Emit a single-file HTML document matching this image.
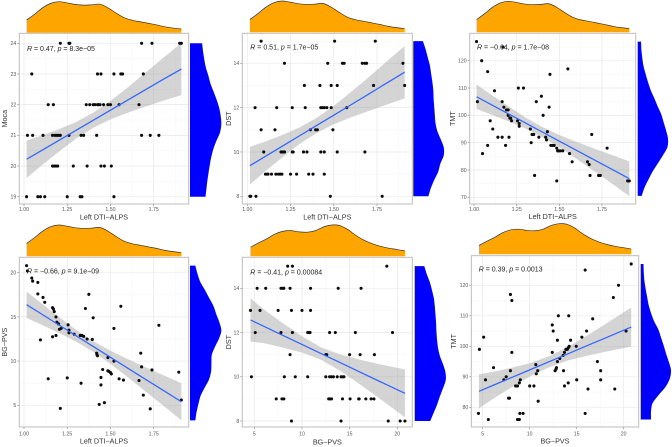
<!DOCTYPE html>
<html lang="en">
<head>
<meta charset="utf-8">
<title>Correlation scatter plots with marginal densities</title>
<style>
html,body{margin:0;padding:0;background:#fff;}
svg{display:block;font-family:"Liberation Sans",Arial,sans-serif;filter:blur(.3px);}
</style>
</head>
<body>
<svg id="chart" xmlns="http://www.w3.org/2000/svg" width="672" height="447" viewBox="0 0 672 447"></svg>
<script>
// ---------- scatter data ----------
const p1Points = [[1.21,24],[1.26,24],[1.265,24],[1.68,24],[1.74,24],[1.90,24],[1.91,24],
[1.045,23],[1.425,23],[1.445,23],[1.52,23],[1.56,23],[1.57,23],[1.69,23],
[1.14,22],[1.17,22],[1.36,22],[1.38,22],[1.40,22],[1.41,22],[1.425,22],[1.43,22],[1.44,22],[1.46,22],[1.485,22],[1.50,22],[1.55,22],[1.665,22],
[1.02,21],[1.05,21],[1.11,21],[1.165,21],[1.18,21],[1.19,21],[1.20,21],[1.21,21],[1.26,21],[1.33,21],[1.345,21],[1.42,21],[1.68,21],[1.73,21],[1.78,21],
[1.165,20],[1.175,20],[1.185,20],[1.195,20],[1.285,20],[1.365,20],[1.445,20],[1.465,20],[1.505,20],
[1.015,19],[1.08,19],[1.095,19],[1.12,19],[1.25,19],[1.325,19],[1.335,19],[1.52,19]];
const p2Points = [[1.08,15],[1.505,15],[1.74,15],
[1.215,14],[1.465,14],[1.55,14],[1.56,14],[1.665,14],[1.68,14],[1.69,14],[1.90,14],
[1.33,13],[1.42,13],[1.485,13],[1.52,13],[1.73,13],[1.91,13],
[1.045,12],[1.17,12],[1.26,12],[1.335,12],[1.425,12],[1.435,12],[1.445,12],[1.46,12],[1.485,12],[1.575,12],
[1.08,11],[1.16,11],[1.365,11],[1.395,11],[1.405,11],[1.495,11],
[1.095,10],[1.195,10],[1.205,10],[1.215,10],[1.26,10],[1.265,10],[1.325,10],[1.345,10],[1.425,10],[1.445,10],[1.52,10],[1.68,10],
[1.105,9],[1.115,9],[1.12,9],[1.14,9],[1.165,9],[1.18,9],[1.19,9],[1.20,9],[1.25,9],[1.285,9],[1.355,9],[1.38,9],[1.445,9],
[1.015,8],[1.02,8],[1.05,8],[1.48,8],[1.78,8]];
const p3Points = [[1.015,127],[1.02,105],[1.045,120],[1.05,86],[1.08,116],[1.08,89],[1.095,98],[1.11,95],[1.12,109],[1.14,92],[1.165,105],[1.165,92],[1.17,125],[1.175,103],[1.185,89],[1.19,102],[1.20,102],[1.20,100],[1.205,92],[1.21,99],[1.215,99],[1.22,98],[1.255,98],[1.26,110],[1.265,97],[1.265,96],[1.29,110],[1.33,95],[1.335,90],[1.34,93],[1.35,93],[1.355,78],[1.365,105],[1.38,92],[1.395,107],[1.405,100],[1.42,92],[1.425,91],[1.43,94],[1.44,103],[1.445,115],[1.45,89],[1.46,89],[1.47,89],[1.485,88],[1.485,76],[1.49,87],[1.495,87],[1.505,87],[1.52,87],[1.55,117],[1.56,86],[1.575,83],[1.665,83],[1.675,82],[1.68,78],[1.69,93],[1.73,78],[1.74,78],[1.78,88],[1.90,76],[1.91,76]];
const p4Points = [[1.015,20.8],[1.02,20.2],[1.045,19.4],[1.05,19.05],[1.08,18.9],[1.08,17.6],[1.11,17.2],[1.12,16.65],[1.095,12.4],[1.14,8],[1.165,16.05],[1.17,15.9],[1.175,15.6],[1.185,15],[1.19,14.4],[1.20,14.2],[1.165,12.75],[1.185,12.9],[1.205,13.6],[1.215,13.7],[1.255,14.1],[1.26,13.5],[1.26,13.2],[1.29,13.05],[1.325,12.9],[1.335,12.9],[1.345,12.8],[1.365,12.5],[1.395,12.45],[1.355,15.95],[1.375,17.55],[1.40,14.9],[1.42,10.9],[1.422,10.7],[1.425,10.6],[1.25,8.1],[1.33,7.5],[1.21,4.65],[1.435,5.1],[1.445,8.15],[1.445,7.3],[1.455,9.05],[1.465,5.3],[1.485,10.4],[1.485,8.9],[1.49,8.85],[1.50,8.7],[1.505,8.55],[1.52,10],[1.52,13.7],[1.55,8],[1.56,16.2],[1.575,7.85],[1.665,7.8],[1.675,10.9],[1.68,9.35],[1.69,6.15],[1.74,9],[1.73,4.6],[1.78,14.05],[1.895,8.75],[1.91,5.6]];
const p5Points = [[8.5,15],[9.0,15],[18.9,15],
[5.3,14],[6.2,14],[7.8,14],[8.0,14],[8.1,14],[8.75,14],[10.9,14],[13.8,14],[16.2,14],
[4.6,13],[5.6,13],[7.5,13],[8.9,13],[10.0,13],[10.9,13],
[5.1,12],[7.8,12],[9.0,12],[10.6,12],[10.75,12],[10.85,12],[12.9,12],[13.5,12],[15.6,12],[19.5,12],
[8.75,11],[12.5,11],[12.6,11],[15.0,11],[16.1,11],[17.6,11],
[4.7,10],[8.15,10],[9.3,10],[10.6,10],[12.5,10],[12.9,10],[13.1,10],[13.3,10],[13.7,10],[14.1,10],[14.25,10],[14.4,10],
[7.3,9],[7.9,9],[8.1,9],[12.8,9],[12.95,9],[13.1,9],[14.25,9],[15.05,9],[15.95,9],[16.0,9],[16.7,9],[17.25,9],[17.55,9],
[8.9,8],[14.1,8],[19.05,8],[20.3,8],[20.8,8]];
const p6Points = [[20.8,127],[15.9,125],[19.45,120],[18.9,116],[7.95,117],[8.1,115],[13.05,110],[14.15,110],[16.7,109],[12.4,107],[12.5,105],[16.05,105],[20.25,105],[5.1,103],[15.55,103],[12.95,102],[14.35,102],[4.65,99],[8.1,98],[12.4,98],[14.95,100],[14.2,100],[14.1,99.5],[13.85,99],[14,99],[13.7,98],[13.55,97],[13.2,96],[12.95,95],[10.65,94],[17.2,95],[6.15,93],[12.85,93],[12.7,92],[12.8,92.5],[7.95,92],[10.85,92],[13.6,92],[17.55,92],[10.7,91],[7.5,90],[7.25,89],[5.3,89],[9.0,89],[15,89],[17.55,89],[8.9,88],[14.1,88],[8.5,87],[8.7,87],[10,87],[10.45,87],[13.7,87],[16.2,86],[19.05,86],[10.9,82],[7.75,83],[7.85,83],[4.55,78],[8.95,78],[9.3,78],[15.9,78],[5.6,76],[8.7,76],[8.9,76]];

// ---------- regression fit + confidence band ----------
const dtiFitX = [1.015,1.1,1.2,1.3,1.4,1.5,1.6,1.7,1.8,1.91];
const pvsFitX = [4.6,6,8,10,12,14,16,18,20.8];
const p1Fit = [20.22,20.50,20.83,21.16,21.49,21.82,22.15,22.48,22.81,23.16];
const p1Lo = [19.61,20.01,20.46,20.89,21.245,21.52,21.735,21.93,22.12,22.31];
const p1Hi = [20.83,20.99,21.20,21.43,21.735,22.12,22.565,23.03,23.50,24.01];
const p2Fit = [9.38,9.78,10.25,10.72,11.19,11.66,12.13,12.6,13.08,13.6];
const p2Lo = [8.53,9.10,9.74,10.35,10.85,11.25,11.56,11.84,12.12,12.42];
const p2Hi = [10.23,10.46,10.76,11.10,11.53,12.08,12.71,13.36,14.04,14.78];
const p3Fit = [106.8,103.95,100.6,97.25,93.9,90.55,87.2,83.85,80.5,76.8];
const p3Lo = [102.3,100.3,97.84,95.23,92.07,88.31,84.1,79.75,75.35,70.45];
const p3Hi = [111.3,107.6,103.36,99.27,95.73,92.79,90.3,87.95,85.65,83.15];
const p4Fit = [16.38,15.34,14.11,12.88,11.66,10.43,9.2,7.97,6.75,5.4];
const p4Lo = [14.88,14.13,13.2,12.21,11.06,9.69,8.18,6.61,5.05,3.3];
const p4Hi = [17.88,16.55,15.02,13.55,12.26,11.17,10.22,9.33,8.45,7.5];
const p5Fit = [12.57,12.28,11.87,11.46,11.05,10.64,10.23,9.82,9.25];
const p5Lo = [11.59,11.52,11.32,11.09,10.77,10.27,9.68,9.06,8.17];
const p5Hi = [13.55,13.04,12.42,11.83,11.33,11.01,10.78,10.58,10.33];
const p6Fit = [85.25,87.07,89.67,92.27,94.87,97.47,100.07,102.67,106.3];
const p6Lo = [79.65,82.57,86.42,90.11,93.07,95.31,96.82,98.17,99.9];
const p6Hi = [90.85,91.57,92.92,94.43,96.67,99.63,103.32,107.17,112.7];

// ---------- marginal density heights (relative, evenly sampled along the axis) ----------
const dtiDensity = [.41,.60,.81,.95,1.0,.96,.91,.89,.90,.92,.80,.63,.48,.40,.35,.30,.25,.19,.15,.12];
const pvsDensity = [.29,.43,.56,.71,.80,.82,.78,.77,.82,.94,1.0,.98,.85,.66,.51,.40,.32,.26,.22,.17];
const mocaDensity = [.38,.41,.45,.50,.58,.65,.75,.85,.93,.98,1.0,.96,.85,.75,.68,.63,.59,.55,.52,.49];
const dstDensity = [.30,.39,.46,.53,.57,.61,.64,.65,.67,.69,.71,.77,.88,.98,.98,.87,.80,.67,.56,.48];
const tmtDensity = [.10,.11,.14,.18,.25,.33,.42,.54,.65,.77,.85,.93,.99,.97,.82,.65,.48,.34,.21,.12];
const pvsSideDensity = [.16,.23,.32,.47,.61,.75,.84,.94,1.0,.92,.79,.69,.68,.67,.60,.46,.33,.26,.20,.16];
const dstSideDensity2 = [.30,.38,.48,.55,.61,.64,.66,.68,.69,.71,.74,.80,.90,.98,.99,.90,.80,.71,.60,.49];
const tmtSideDensity2 = [.08,.09,.11,.15,.20,.25,.33,.43,.57,.66,.75,.83,.92,.99,.95,.81,.58,.38,.33,.33];

// ---------- tick labels ----------
const dtiTicks = [1.00,1.25,1.50,1.75];
const mocaTicks = [19,20,21,22,23,24];
const dstTicks = [8,10,12,14];
const tmtTicksA = [70,80,90,100,110,120];
const tmtTicksB = [80,90,100,110,120];
const pvsTicks = [5,10,15,20];
const bgPvsTicks = [5,10,15,20];

// ---------- layout ----------
const panels = [
 {name:'moca-vs-dti-panel',points:p1Points,fitX:dtiFitX,fit:p1Fit,lo:p1Lo,hi:p1Hi,topD:dtiDensity,sideD:mocaDensity,xTicks:dtiTicks,xFmt:2,yTicks:mocaTicks,xTitle:'Left DTI\u2212ALPS',yTitle:'Moca',
  r:'0.47',p:'8.3e\u221205',box:[19.3,188.7,33.3,204],xCal:[1,24,1.75,153.7],yCal:[19,196.7,24,43.3],sideRange:[19,24],top:[32.7,31],side:[190,31],ann:[27,51],tickY:211.2,titleY:219.7,yTitleX:7.2},
 {name:'dst-vs-dti-panel',points:p2Points,fitX:dtiFitX,fit:p2Fit,lo:p2Lo,hi:p2Hi,topD:dtiDensity,sideD:dstDensity,xTicks:dtiTicks,xFmt:2,yTicks:dstTicks,xTitle:'Left DTI\u2212ALPS',yTitle:'DST',
  r:'0.51',p:'1.7e\u221205',box:[242.3,412.3,33.3,204],xCal:[1,247.3,1.75,377],yCal:[8,196.3,14,63.3],sideRange:[8,15],top:[32.3,31.3],side:[413.3,30.7],ann:[250.3,49.3],tickY:211.2,titleY:219.7,yTitleX:231},
 {name:'tmt-vs-dti-panel',points:p3Points,fitX:dtiFitX,fit:p3Fit,lo:p3Lo,hi:p3Hi,topD:dtiDensity,sideD:tmtDensity,xTicks:dtiTicks,xFmt:2,yTicks:tmtTicksA,xTitle:'Left DTI\u2212ALPS',yTitle:'TMT',
  r:'\u22120.64',p:'1.7e\u221208',box:[469.7,635.7,33.3,204],xCal:[1,474,1.75,602],yCal:[70,197.3,120,60.7],sideRange:[70.5,127],top:[32.3,31],side:[637.7,30.3],ann:[477,49.3],tickY:211.2,titleY:219.2,yTitleX:454.8},
 {name:'pvs-vs-dti-panel',points:p4Points,fitX:dtiFitX,fit:p4Fit,lo:p4Lo,hi:p4Hi,topD:dtiDensity,sideD:pvsSideDensity,xTicks:dtiTicks,xFmt:2,yTicks:pvsTicks,xTitle:'Left DTI\u2212ALPS',yTitle:'BG\u2212PVS',
  r:'\u22120.66',p:'9.1e\u221209',box:[19.3,188.7,257.3,427],xCal:[1,24,1.75,153.7],yCal:[5,405.3,20,272.7],sideRange:[3.3,20.8],top:[256.3,31.3],side:[190,31],ann:[27,273.3],tickY:435.5,titleY:443.5,yTitleX:7.2},
 {name:'dst-vs-pvs-panel',points:p5Points,fitX:pvsFitX,fit:p5Fit,lo:p5Lo,hi:p5Hi,topD:pvsDensity,sideD:dstSideDensity2,xTicks:bgPvsTicks,xFmt:0,yTicks:dstTicks,xTitle:'BG\u2212PVS',yTitle:'DST',
  r:'\u22120.41',p:'0.00084',box:[242.3,412.3,257.3,427],xCal:[5,254.3,20,397.3],yCal:[8,421,14,288.3],sideRange:[8,15],top:[256.3,31.3],side:[414.7,31],ann:[250.3,274.5],tickY:435.5,titleY:444.5,yTitleX:231},
 {name:'tmt-vs-pvs-panel',points:p6Points,fitX:pvsFitX,fit:p6Fit,lo:p6Lo,hi:p6Hi,topD:pvsDensity,sideD:tmtSideDensity2,xTicks:bgPvsTicks,xFmt:0,yTicks:tmtTicksB,xTitle:'BG\u2212PVS',yTitle:'TMT',
  r:'0.39',p:'0.0013',box:[471.3,638.7,255.7,427],xCal:[5,482.7,20,623.7],yCal:[80,407.3,120,285.3],sideRange:[76,127],top:[254.3,30.6],side:[640.7,30.3],ann:[478.7,271.3],tickY:435.5,titleY:443.5,yTitleX:455.8}
];

const SVGNS = 'http://www.w3.org/2000/svg';
const root = document.getElementById('chart');
function mk(parent, tag, attrs, txt){
  const el = document.createElementNS(SVGNS, tag);
  for (const k in attrs) el.setAttribute(k, attrs[k]);
  if (txt !== undefined) el.textContent = txt;
  parent.appendChild(el);
  return el;
}
function linScale(c){
  const k = (c[3]-c[1])/(c[2]-c[0]);
  return function(v){ return c[1]+(v-c[0])*k; };
}
// smooth path through samples (Catmull-Rom to Bezier)
function smoothPath(pts){
  let d = 'M'+pts[0][0].toFixed(2)+' '+pts[0][1].toFixed(2);
  for (let i=0;i<pts.length-1;i++){
    const p0 = pts[Math.max(i-1,0)], p1 = pts[i], p2 = pts[i+1], p3 = pts[Math.min(i+2,pts.length-1)];
    const c1x = p1[0]+(p2[0]-p0[0])/6, c1y = p1[1]+(p2[1]-p0[1])/6;
    const c2x = p2[0]-(p3[0]-p1[0])/6, c2y = p2[1]-(p3[1]-p1[1])/6;
    d += 'C'+c1x.toFixed(2)+' '+c1y.toFixed(2)+' '+c2x.toFixed(2)+' '+c2y.toFixed(2)+' '+p2[0].toFixed(2)+' '+p2[1].toFixed(2);
  }
  return d;
}

panels.forEach(function(P){
  const sx = linScale(P.xCal), sy = linScale(P.yCal);
  const L=P.box[0], R=P.box[1], T=P.box[2], B=P.box[3];
  const g = mk(root,'g',{});
  
  

  // background
  const bg = mk(g,'rect',{x:L,y:T,width:R-L,height:B-T,fill:'#fff'});
  
  

  // minor + major grid
  const dx = P.xTicks[1]-P.xTicks[0], dy = P.yTicks[1]-P.yTicks[0];
  for (let v=P.xTicks[0]-dx/2; sx(v)<R; v+=dx){
    if (sx(v)<=L) continue;
    const m = mk(g,'line',{x1:sx(v),x2:sx(v),y1:T,y2:B,stroke:'#f2f2f2','stroke-width':.4});
    
    
  }
  for (let v=P.yTicks[0]-dy/2; sy(v)>T; v+=dy){
    if (sy(v)>=B) continue;
    const m = mk(g,'line',{y1:sy(v),y2:sy(v),x1:L,x2:R,stroke:'#f2f2f2','stroke-width':.4});
    
    
  }
  P.xTicks.forEach(function(v){
    const l = mk(g,'line',{x1:sx(v),x2:sx(v),y1:T,y2:B,stroke:'#e9e9e9','stroke-width':.7});
    
    
    const t = mk(g,'line',{x1:sx(v),x2:sx(v),y1:B,y2:B+2,stroke:'#777','stroke-width':.6});
    
    
    const lab = mk(g,'text',{x:sx(v),y:P.tickY,'text-anchor':'middle','font-size':5.2,fill:'#555'},v.toFixed(P.xFmt));
    
    
  });
  P.yTicks.forEach(function(v){
    const l = mk(g,'line',{y1:sy(v),y2:sy(v),x1:L,x2:R,stroke:'#e9e9e9','stroke-width':.7});
    
    
    const t = mk(g,'line',{y1:sy(v),y2:sy(v),x1:L-2,x2:L,stroke:'#777','stroke-width':.6});
    
    
    const lab = mk(g,'text',{x:L-3,y:sy(v)+1.9,'text-anchor':'end','font-size':5.2,fill:'#555'},String(v));
    
    
  });

  // confidence band
  let band = '';
  P.fitX.forEach(function(x,i){ band += (i?'L':'M')+sx(x).toFixed(2)+' '+sy(P.hi[i]).toFixed(2); });
  for (let i=P.fitX.length-1;i>=0;i--){ band += 'L'+sx(P.fitX[i]).toFixed(2)+' '+sy(P.lo[i]).toFixed(2); }
  const b = mk(g,'path',{d:band+'Z',fill:'#999','fill-opacity':.42});
  
  

  // points
  P.points.forEach(function(pt){
    const c = mk(g,'circle',{cx:sx(pt[0]).toFixed(2),cy:sy(pt[1]).toFixed(2),r:1.55,fill:'#0c0c0c'});
    
    
  });

  // fit line
  let fit = '';
  P.fitX.forEach(function(x,i){ fit += (i?'L':'M')+sx(x).toFixed(2)+' '+sy(P.fit[i]).toFixed(2); });
  const f = mk(g,'path',{d:fit,fill:'none',stroke:'#3366ff','stroke-width':1.25});
  
  

  // panel border
  const border = mk(g,'rect',{x:L,y:T,width:R-L,height:B-T,fill:'none',stroke:'#bcbcbc','stroke-width':1});
  
  

  // annotation
  const ann = mk(g,'text',{x:P.ann[0],y:P.ann[1],'font-size':7,fill:'#222'});
  
  
  mk(ann,'tspan',{'font-style':'italic'},'R');
  mk(ann,'tspan',{},' = '+P.r+', ');
  mk(ann,'tspan',{'font-style':'italic'},'p');
  mk(ann,'tspan',{},' = '+P.p);

  // axis titles
  const xt = mk(g,'text',{x:(L+R)/2,y:P.titleY,'text-anchor':'middle','font-size':7.2,fill:'#333'},P.xTitle);
  
  
  const yc = (T+B)/2;
  const yt = mk(g,'text',{x:P.yTitleX,y:yc,'text-anchor':'middle','font-size':7.2,fill:'#333',transform:'rotate(-90 '+P.yTitleX+' '+yc+')'},P.yTitle);
  
  

  // top density
  const xMin = P.fitX[0], xMax = P.fitX[P.fitX.length-1];
  const base = P.top[0], tH = P.top[1];
  const nT = P.topD.length;
  const topPts = P.topD.map(function(h,i){
    return [sx(xMin+(xMax-xMin)*i/(nT-1)), base-h*tH];
  });
  const curve = smoothPath(topPts);
  const ta = mk(g,'path',{d:curve+'L'+sx(xMax).toFixed(2)+' '+base+'L'+sx(xMin).toFixed(2)+' '+base+'Z',fill:'#ffa500'});
  
  
  const tl = mk(g,'path',{d:curve,fill:'none',stroke:'#333','stroke-width':.7,'stroke-linejoin':'round'});
  
  

  // side density
  const sL = P.side[0], sW = P.side[1];
  const nS = P.sideD.length;
  const yHi = P.sideRange[1], yLo = P.sideRange[0];
  const sidePts = P.sideD.map(function(h,i){
    return [sL+h*sW, sy(yHi-(yHi-yLo)*i/(nS-1))];
  });
  const sc = smoothPath(sidePts);
  const sa = mk(g,'path',{d:sc+'L'+sL+' '+sy(yLo).toFixed(2)+'L'+sL+' '+sy(yHi).toFixed(2)+'Z',fill:'#0000ff'});
  
  
  const sl = mk(g,'path',{d:sc,fill:'none',stroke:'#223','stroke-width':.7,'stroke-linejoin':'round'});
  
  
});
</script>
</body>
</html>
